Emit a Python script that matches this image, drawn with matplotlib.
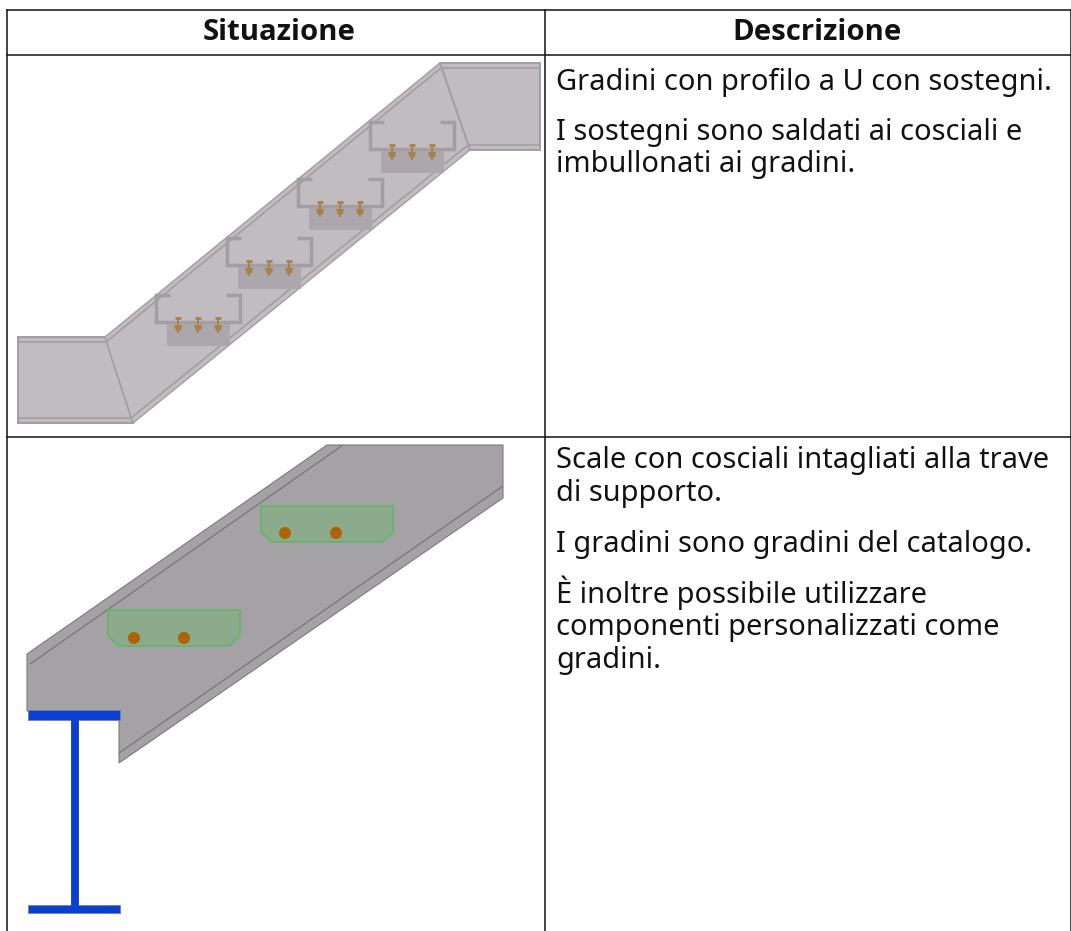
import matplotlib
matplotlib.use("Agg")
import matplotlib.pyplot as plt
from matplotlib.patches import Polygon, Rectangle, Circle

W, H = 1071, 931
FONT = ["Noto Sans", "DejaVu Sans"]
FONT_BOLD = ["Open Sans", "Noto Sans", "DejaVu Sans"]

# Table content
headers = ["Situazione", "Descrizione"]
header_x = [279, 817]
header_y = 40
body_lines = [
    ("Gradini con profilo a U con sostegni.", 90),
    ("I sostegni sono saldati ai cosciali e", 140),
    ("imbullonati ai gradini.", 172),
    ("Scale con cosciali intagliati alla trave", 468),
    ("di supporto.", 501),
    ("I gradini sono gradini del catalogo.", 552),
    ("È inoltre possibile utilizzare", 603),
    ("componenti personalizzati come", 635),
    ("gradini.", 668),
]
table_x = [7, 545, 1071]
table_y = [10, 55, 437]

# Top drawing: stair
landing_left = [(18, 337), (105, 337), (133, 423), (18, 423)]
stringer = [(105, 337), (440, 63), (470, 150), (133, 423)]
landing_right = [(440, 63), (540, 63), (540, 150), (470, 150)]
flange_lines = [
    [(18, 342), (106, 342), (441, 68)],
    [(18, 418), (131, 418), (468, 145), (540, 145)],
    [(441, 68), (540, 68)],
]
step_left = [155, 226, 297, 369]
step_top = [294, 237, 178, 121]
bolt_dx = [23, 43, 63]

# Bottom drawing: notched stringer on I-beam
notched = [(27, 654), (327, 445), (503, 445), (503, 498), (119, 763), (119, 711), (27, 711)]
notched_inner = [[(30, 664), (343, 445)], [(119, 753), (503, 486)]]
green_plates = [(108, 610), (261, 506)]
green_bolts = [(134, 638), (184, 638), (285, 533), (336, 533)]
beam_flanges = [(28, 710, 92, 10), (28, 905, 92, 8)]
beam_web = (71, 720, 7, 185)

C_FILL = "#c0bcc0"
C_LINE = "#a29ea3"
C_PLATE = "#aca7ad"
C_BOLT = "#a98247"
C_DARK = "#a5a2a6"
C_DLINE = "#7d7a7e"
C_GREEN = "#8bab8c"
C_GEDGE = "#66b56a"
C_ORANGE = "#ad6405"
C_BLUE = "#0a3fd0"

fig = plt.figure(figsize=(W / 100, H / 100), dpi=100)
ax = fig.add_axes([0, 0, 1, 1])
ax.set_xlim(0, W)
ax.set_ylim(H, 0)
ax.axis("off")


def poly(pts, fc, ec="none", lw=0, z=2):
    ax.add_patch(Polygon(pts, closed=True, facecolor=fc, edgecolor=ec, linewidth=lw, zorder=z))


def line(pts, c, lw=1.0, z=3):
    ax.plot([p[0] for p in pts], [p[1] for p in pts], color=c, lw=lw, zorder=z,
            solid_capstyle="butt", solid_joinstyle="miter")


# Stair
poly(landing_left, C_FILL, C_LINE, 1.4)
poly(stringer, C_FILL, C_LINE, 1.0)
poly(landing_right, C_FILL, C_LINE, 1.4)
for seg in flange_lines:
    line(seg, C_LINE, 1.2)

for x0, y0 in zip(step_left, step_top):
    # backing plate
    ax.add_patch(Rectangle((x0 + 12, y0 + 30), 63, 22, facecolor=C_PLATE, edgecolor="none", zorder=4))
    # channel
    line([(x0 + 15, y0 + 1), (x0 + 1, y0 + 1), (x0 + 1, y0 + 28), (x0 + 85, y0 + 28),
          (x0 + 85, y0 + 1), (x0 + 71, y0 + 1)], C_LINE, 2.5, z=5)
    for dx in bolt_dx:
        bx = x0 + dx
        line([(bx - 3, y0 + 24), (bx + 3, y0 + 24)], C_BOLT, 2.0, z=6)
        line([(bx, y0 + 25), (bx, y0 + 39)], C_BOLT, 1.4, z=6)
        poly([(bx - 4, y0 + 31), (bx + 4, y0 + 31), (bx + 3, y0 + 36), (bx - 2, y0 + 37)],
             C_BOLT, z=6)

# Notched stringer
poly(notched, C_DARK, C_DLINE, 0.8)
for seg in notched_inner:
    line(seg, C_DLINE, 1.0)
for x0, y0 in green_plates:
    poly([(x0, y0), (x0 + 132, y0), (x0 + 132, y0 + 26), (x0 + 121, y0 + 36),
          (x0 + 11, y0 + 36), (x0, y0 + 26)], C_GREEN, C_GEDGE, 1.3, z=4)
for b in green_bolts:
    ax.add_patch(Circle(b, 6, facecolor=C_ORANGE, edgecolor="none", zorder=5))

# I-beam
for x0, y0, w, h in beam_flanges:
    ax.add_patch(Rectangle((x0, y0), w, h, facecolor=C_BLUE, edgecolor="#6f7fb5", linewidth=0.6, zorder=6))
ax.add_patch(Rectangle(beam_web[:2], beam_web[2], beam_web[3], facecolor=C_BLUE,
                       edgecolor=C_BLUE, linewidth=0.6, zorder=7))

# Table rules
for x in table_x:
    ax.plot([x, x], [table_y[0], H], color="#111111", lw=1.1, zorder=8)
for y in table_y:
    ax.plot([table_x[0], W], [y, y], color="#111111", lw=1.1, zorder=8)

# Text
for label, x in zip(headers, header_x):
    ax.text(x, header_y, label, ha="center", va="baseline", fontsize=21.1,
            fontweight="bold", family=FONT_BOLD, color="#111111", zorder=9)
for label, y in body_lines:
    ax.text(556, y, label, ha="left", va="baseline", fontsize=20.9,
            family=FONT, color="#111111", zorder=9)

fig.savefig("out.png", dpi=100)
